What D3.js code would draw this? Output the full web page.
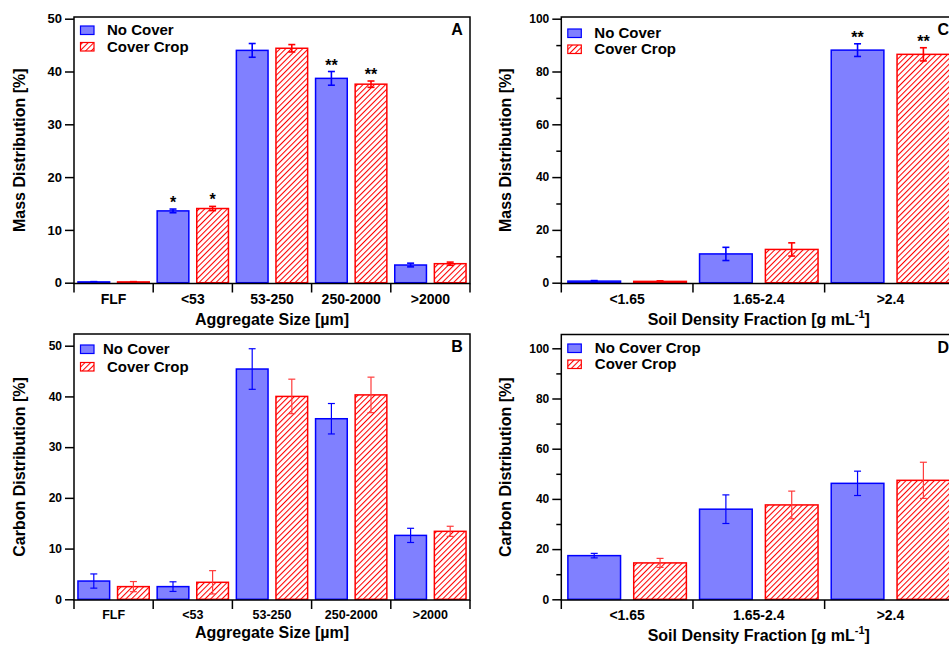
<!DOCTYPE html>
<html><head><meta charset="utf-8">
<script src="https://cdn.jsdelivr.net/npm/d3@7/dist/d3.min.js"></script>
<style>body{margin:0;background:#fff;}svg{display:block;font-family:"Liberation Sans",Arial,sans-serif;font-weight:bold;}</style>
</head><body><svg id="c" width="949" height="649"></svg>
<script>
// ---- data ----
const aggCats = ["FLF", "<53", "53-250", "250-2000", ">2000"];
const densCats = ["<1.65", "1.65-2.4", ">2.4"];
const seriesNames = ["No Cover", "Cover Crop"];
const seriesNamesD = ["No Cover Crop", "Cover Crop"];

const massAggNC = [0.15, 13.6, 44.0, 38.7, 3.35];
const massAggNCErr = [0.05, 0.35, 1.3, 1.3, 0.35];
const massAggCC = [0.15, 14.05, 44.4, 37.6, 3.6];
const massAggCCErr = [0.05, 0.4, 0.7, 0.6, 0.3];
const massAggStarsNC = ["", "*", "", "**", ""];
const massAggStarsCC = ["", "*", "", "**", ""];

const carbAggNC = [3.6, 2.5, 45.4, 35.6, 12.6];
const carbAggNCErr = [1.4, 0.95, 4.0, 3.0, 1.4];
const carbAggCC = [2.5, 3.35, 40.0, 40.3, 13.4];
const carbAggCCErr = [1.0, 2.3, 3.4, 3.5, 1.0];

const massDenNC = [0.6, 10.9, 88.1];
const massDenNCErr = [0.2, 2.5, 2.4];
const massDenCC = [0.5, 12.6, 86.5];
const massDenCCErr = [0.2, 2.5, 2.5];
const massDenStarsNC = ["", "", "**"];
const massDenStarsCC = ["", "", "**"];

const carbDenNC = [17.4, 35.9, 46.2];
const carbDenNCErr = [0.9, 5.7, 4.85];
const carbDenCC = [14.5, 37.6, 47.4];
const carbDenCCErr = [1.8, 5.5, 7.2];

const yTicksAgg = [0, 10, 20, 30, 40, 50];
const yTicksDen = [0, 20, 40, 60, 80, 100];
const yMinorDen = [10, 30, 50, 70, 90];

// ---- drawing ----
const svg = d3.select("#c");
const defs = svg.append("defs");
const pat = defs.append("pattern").attr("id", "hatch").attr("patternUnits", "userSpaceOnUse")
  .attr("width", 4).attr("height", 4).attr("patternTransform", "rotate(45)");
pat.append("rect").attr("width", 4).attr("height", 4).attr("fill", "#fff");
pat.append("line").attr("x1", 0.5).attr("y1", 0).attr("x2", 0.5).attr("y2", 4)
  .attr("stroke", "#ff0000").attr("stroke-width", 1.1);

const BLUE = "#0000ff", BFILL = "#8080ff", RED = "#ff0000";

function panel(o) {
  const g = svg.append("g");
  const x = d3.scaleBand().domain(o.cats).range([o.left, o.right]).paddingInner(0).paddingOuter(0);
  const xs = d3.scaleBand().domain([0, 1]).range([0, x.bandwidth()]).paddingInner(0.2).paddingOuter(0.1);
  const y = d3.scaleLinear().domain([0, o.ymax]).range([o.y0, o.yTop]);

  const series = [
    {vals: o.nc, err: o.ncErr, stars: o.ncStars, fill: BFILL, stroke: BLUE, ecol: BLUE},
    {vals: o.cc, err: o.ccErr, stars: o.ccStars, fill: "url(#hatch)", stroke: RED, ecol: o.redErr || RED}
  ];
  series.forEach((s, si) => {
    o.cats.forEach((c, i) => {
      const bx = x(c) + xs(si), bw = xs.bandwidth();
      const v = s.vals[i];
      g.append("rect").attr("x", bx).attr("y", y(v)).attr("width", bw)
        .attr("height", Math.max(0, y(0) - y(v)))
        .attr("fill", s.fill).attr("stroke", s.stroke).attr("stroke-width", 1.5);
      const cx = bx + bw / 2, e = s.err[i];
      const eg = g.append("g").attr("stroke", s.ecol).attr("stroke-width", o.ew).attr("fill", "none");
      eg.append("line").attr("x1", cx).attr("x2", cx).attr("y1", y(v + e)).attr("y2", y(v - e));
      eg.append("line").attr("x1", cx - 3.5).attr("x2", cx + 3.5).attr("y1", y(v + e)).attr("y2", y(v + e));
      eg.append("line").attr("x1", cx - 3.5).attr("x2", cx + 3.5).attr("y1", y(v - e)).attr("y2", y(v - e));
      if (s.stars && s.stars[i]) {
        g.append("text").attr("x", cx).attr("y", y(v + e) - 1).attr("text-anchor", "middle")
          .attr("font-size", 16).attr("fill", "#000").text(s.stars[i]);
      }
    });
  });

  // frame
  g.append("rect").attr("x", o.left).attr("y", o.top).attr("width", o.right - o.left)
    .attr("height", o.bottom - o.top).attr("fill", "none").attr("stroke", "#000").attr("stroke-width", 1.5);

  // y axis
  const ya = g.append("g").attr("transform", `translate(${o.left},0)`)
    .call(d3.axisLeft(y).tickValues(o.yTicks).tickSize(9).tickPadding(3).tickFormat(d3.format("d")));
  ya.select(".domain").remove();
  ya.selectAll("line").attr("stroke", "#000").attr("stroke-width", 1.5);
  ya.selectAll("text").attr("font-size", o.yfs).attr("font-family", "Liberation Sans, Arial, sans-serif")
    .attr("font-weight", "bold").attr("fill", "#000");
  if (o.minor) {
    const ym = g.append("g").attr("transform", `translate(${o.left},0)`)
      .call(d3.axisLeft(y).tickValues(o.minor).tickSize(5).tickFormat(""));
    ym.select(".domain").remove();
    ym.selectAll("line").attr("stroke", "#000").attr("stroke-width", 1.5);
  }

  // x axis separators
  const seps = o.cats.map(c => x(c)).concat([o.right]);
  g.selectAll(null).data(seps).enter().append("line")
    .attr("x1", d => d).attr("x2", d => d).attr("y1", o.bottom).attr("y2", o.bottom + 9)
    .attr("stroke", "#000").attr("stroke-width", 1.5);
  g.selectAll(null).data(o.cats).enter().append("text")
    .attr("x", d => x(d) + x.bandwidth() / 2).attr("y", o.xlabY)
    .attr("text-anchor", "middle").attr("font-size", o.xfs).text(d => d);

  // titles
  const xt = g.append("text").attr("x", (o.left + o.right) / 2).attr("y", o.xtitleY)
    .attr("text-anchor", "middle").attr("font-size", 16);
  if (o.xtitleSup) {
    xt.append("tspan").text(o.xtitle);
    xt.append("tspan").attr("dy", -7).attr("font-size", 11).text(o.xtitleSup);
    xt.append("tspan").attr("dy", 7).text("]");
  } else xt.text(o.xtitle);
  g.append("text").attr("transform", `translate(${o.ytitleX},${(o.top + o.bottom) / 2}) rotate(-90)`)
    .attr("text-anchor", "middle").attr("font-size", 16).text(o.ytitle);

  // panel letter
  g.append("text").attr("x", o.right - 13).attr("y", o.top + 18).attr("text-anchor", "middle")
    .attr("font-size", 16).text(o.letter);

  // legend
  const lx = o.left + 6.5;
  o.legend.forEach((name, i) => {
    const by = o.top + o.legY[i];
    g.append("rect").attr("x", lx).attr("y", by - 9).attr("width", 13.5).attr("height", 8.5)
      .attr("fill", i === 0 ? BFILL : "url(#hatch)").attr("stroke", i === 0 ? BLUE : RED).attr("stroke-width", 1.2);
    g.append("text").attr("x", lx + o.legTX[i]).attr("y", by).attr("font-size", 15).text(name);
  });
}

panel({cats: aggCats, left: 74, right: 470, top: 17, bottom: 283.5, y0: 282.7, yTop: 18.7, ymax: 50,
  nc: massAggNC, ncErr: massAggNCErr, cc: massAggCC, ccErr: massAggCCErr,
  ncStars: massAggStarsNC, ccStars: massAggStarsCC, ew: 1.6,
  yTicks: yTicksAgg, yfs: 13, xfs: 14, xlabY: 303.5, xtitle: "Aggregate Size [µm]", xtitleY: 324.5,
  ytitle: "Mass Distribution [%]", ytitleX: 25, letter: "A",
  legend: seriesNames, legY: [18, 34.5], legTX: [26.5, 26.5]});

panel({cats: aggCats, left: 74, right: 470, top: 334, bottom: 600, y0: 599.3, yTop: 345.7, ymax: 50,
  nc: carbAggNC, ncErr: carbAggNCErr, cc: carbAggCC, ccErr: carbAggCCErr, ew: 1.2, redErr: "#ff3b3b",
  yTicks: yTicksAgg, yfs: 12, xfs: 12.5, xlabY: 618.5, xtitle: "Aggregate Size [µm]", xtitleY: 638,
  ytitle: "Carbon Distribution [%]", ytitleX: 25, letter: "B",
  legend: seriesNames, legY: [20, 37.5], legTX: [22.5, 26.5]});

panel({cats: densCats, left: 561.3, right: 956.3, top: 17, bottom: 283.5, y0: 282.7, yTop: 18.7, ymax: 100,
  nc: massDenNC, ncErr: massDenNCErr, cc: massDenCC, ccErr: massDenCCErr,
  ncStars: massDenStarsNC, ccStars: massDenStarsCC, ew: 1.6, minor: yMinorDen,
  yTicks: yTicksDen, yfs: 12, xfs: 14, xlabY: 303.5, xtitle: "Soil Density Fraction [g mL", xtitleSup: "-1",
  xtitleY: 325, ytitle: "Mass Distribution [%]", ytitleX: 511, letter: "C",
  legend: seriesNames, legY: [21, 37], legTX: [26.5, 26.5]});

panel({cats: densCats, left: 561.3, right: 956.3, top: 334.5, bottom: 600, y0: 599.3, yTop: 348.3, ymax: 100,
  nc: carbDenNC, ncErr: carbDenNCErr, cc: carbDenCC, ccErr: carbDenCCErr, ew: 1.2, redErr: "#ff3b3b",
  minor: yMinorDen,
  yTicks: yTicksDen, yfs: 12, xfs: 14, xlabY: 620, xtitle: "Soil Density Fraction [g mL", xtitleSup: "-1",
  xtitleY: 641, ytitle: "Carbon Distribution [%]", ytitleX: 511, letter: "D",
  legend: seriesNamesD, legY: [18.5, 34.5], legTX: [27, 27]});
</script></body></html>
